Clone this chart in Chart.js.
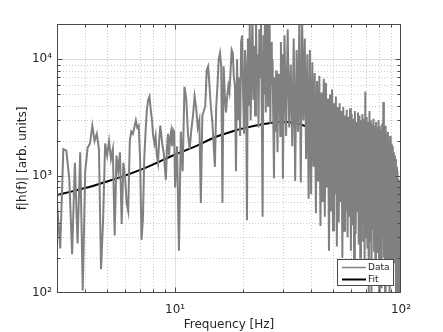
<!DOCTYPE html>
<html>
<head>
<meta charset="utf-8">
<script src="https://cdn.jsdelivr.net/npm/chart.js@4"></script>
<style>
html,body{margin:0;padding:0;background:#fff;}
canvas{display:block;}
</style>
</head>
<body>
<canvas id="c" width="443" height="332"></canvas>
<script>
// ---- Data ----
const freqA = [3.0,3.1,3.2,3.3,3.4,3.5,3.6,3.7,3.8,3.9,
  4.0,4.1,4.2,4.3,4.4,4.5,4.6,4.7,4.8,4.9,
  5.0,5.1,5.2,5.3,5.4,5.5,5.6,5.7,5.8,5.9,
  6.0,6.1,6.2,6.3,6.4,6.5,6.6,6.7,6.8,6.9,
  7.0,7.1,7.2,7.3,7.4,7.5,7.6,7.7,7.8,7.9,
  8.0,8.1,8.2,8.3,8.4,8.5,8.6,8.7,8.8,8.9,
  9.0,9.1,9.2,9.3,9.4,9.5,9.6,9.7,9.8,9.9,
  10.0];
const valsA = [600,240,1700,1650,950,215,1300,265,1600,105,
  1100,1750,1900,2700,2000,2300,1700,160,420,1900,
  1500,2000,1400,1700,310,1500,1100,1600,390,1300,
  1000,590,500,2000,2400,2300,2600,3000,2600,2700,
  1400,285,420,1400,2400,3700,4500,4800,3700,3000,
  2200,1900,2200,1500,1300,2000,2700,2200,1800,1600,
  1200,930,1700,2300,1500,2100,2400,1800,2500,2400,
  800];
const freqB = [10.2,10.4,10.6,10.8,11.0,11.2,11.4,11.6,11.8,12.0,
  12.2,12.4,12.6,12.8,13.0,13.2,13.4,13.6,13.8,14.0,
  14.2,14.4,14.6,14.8,15.0,15.2,15.4,15.6,15.8,16.0,
  16.2,16.4,16.6,16.8,17.0,17.2,17.4,17.6,17.8,18.0,
  18.2,18.4,18.6,18.8,19.0,19.2,19.4,19.6,19.8,20.0,
  20.2,20.4,20.6,20.8,21.0,21.2,21.4,21.6,21.8,22.0,
  22.2,22.4,22.6,22.8,23.0,23.2,23.4,23.6,23.8,24.0,
  24.2,24.4,24.6,24.8,25.0,25.2,25.4,25.6,25.8,26.0,
  26.2,26.4,26.6,26.8,27.0,27.2,27.4,27.6,27.8,28.0,
  28.2,28.4,28.6,28.8,29.0,29.2,29.4,29.6,29.8,30.0];
const valsB = [1800,230,2400,1100,5800,4600,2300,1700,2500,3300,
  4800,3800,2600,3000,590,3300,3600,4000,8100,8700,
  5900,3900,3000,1900,1200,3900,5900,10000,11300,8700,
  590,8700,4800,3500,4800,5900,5200,8000,12000,11300,
  7000,5900,1100,10000,3000,7000,2200,14000,16000,5000,
  2300,12000,8000,420,15000,4000,20000,3000,9000,24000,
  4500,13000,3300,25000,6000,11000,2600,18000,7000,22000,
  3200,450,16000,5000,26000,3500,12000,22000,4000,9000,
  24000,2800,14000,6000,10000,3000,960,7000,2400,8000,
  5000,1600,7500,3500,6000,2200,14000,4000,11000,950];
const freqC = [30.5,31.0,31.5,32.0,32.5,33.0,33.5,34.0,34.5,35.0,
  35.5,36.0,36.5,37.0,37.5,38.0,38.5,39.0,39.5,40.0,
  40.5,41.0,41.5,42.0,42.5,43.0,43.5,44.0,44.5,45.0,
  45.5,46.0,46.5,47.0,47.5,48.0,48.5,49.0,49.5,50.0,
  50.5,51.0,51.5,52.0,52.5,53.0,53.5,54.0,54.5,55.0,
  55.5,56.0,56.5,57.0,57.5,58.0,58.5,59.0,59.5,60.0,
  60.5,61.0,61.5,62.0,62.5,63.0,63.5,64.0,64.5,65.0,
  65.5,66.0,66.5,67.0,67.5,68.0,68.5,69.0,69.5,70.0,
  70.5,71.0,71.5,72.0,72.5,73.0,73.5,74.0,74.5,75.0,
  75.5,76.0,76.5,77.0,77.5,78.0,78.5,79.0,79.5,80.0,
  80.5,81.0,81.5,82.0,82.5,83.0,83.5,84.0,84.5,85.0,
  85.5,86.0,86.5,87.0,87.5,88.0,88.5,89.0,89.5,90.0,
  90.5,91.0,91.5,92.0,92.5,93.0,93.5,94.0,94.5,95.0,
  95.5,96.0,96.5,97.0,97.5,98.0,98.5,99.0,99.5,100.0];
const valsC = [16000,2200,18000,2600,9000,1800,15000,910,12000,2400,
  24000,880,22000,3000,15000,1400,11000,640,12000,700,
  9400,1200,7600,480,6500,900,7200,375,5200,600,
  6800,450,6300,800,4600,230,5000,500,5500,345,
  4200,700,4800,250,3900,400,4200,600,3600,200,
  3900,340,3300,500,3700,300,3200,450,3800,230,
  3400,380,3100,190,3600,320,2900,500,3500,260,
  3300,200,3000,400,3400,280,3100,190,5300,300,
  3200,240,2900,100,3600,280,3000,100,2800,350,
  3100,230,2700,150,2900,300,2600,220,3000,100,
  2700,260,2500,110,2800,300,4300,200,2500,100,
  2700,280,2300,150,2400,230,2000,100,2200,260,
  1900,120,1800,250,1600,180,1500,220,1400,100,
  1200,250,1100,100,950,260,900,100,850,300];
const fitFreq = [3,3.5,4,5,6,7,8,10,12,15,18,20,25,30,35,40,45,50,55,60,65,70,75,80,85,90,95,100];
const fitVals = [690,740,790,900,1010,1130,1260,1530,1760,2150,2420,2560,2800,2920,2800,2560,2300,2050,1780,1530,1290,1080,900,740,600,480,370,280];

const xMajorTicks = [10, 100];
const xMinorTicks = [3,4,5,6,7,8,9,20,30,40,50,60,70,80,90];
const yMajorTicks = [100, 1000, 10000];
const yMinorTicks = [200,300,400,500,600,700,800,900,2000,3000,4000,5000,6000,7000,8000,9000];
const seriesNames = ['Data', 'Fit'];
const xTitle = 'Frequency [Hz]';
const yTitle = 'f|h(f)| [arb. units]';

// ---- helpers ----
const SUP = {'0':'\u2070','1':'\u00B9','2':'\u00B2','3':'\u00B3','4':'\u2074','5':'\u2075','6':'\u2076','7':'\u2077','8':'\u2078','9':'\u2079','-':'\u207B'};
function powLabel(v){
  const e = Math.round(Math.log10(v));
  return '10' + String(e).split('').map(c => SUP[c]).join('');
}
const dataFreq = freqA.concat(freqB, freqC);
const dataVals = valsA.concat(valsB, valsC);
const dataPts = dataFreq.map((f, i) => ({x: f, y: dataVals[i]}));
const fitPts = fitFreq.map((f, i) => ({x: f, y: fitVals[i]}));

const TEXT = '#262626';
Chart.defaults.font.family = 'DejaVu Sans';
Chart.defaults.color = TEXT;

const frame = {
  id: 'frame',
  beforeDatasetsDraw(chart) {
    const {ctx, chartArea: a, scales: {x, y}} = chart;
    ctx.save();
    ctx.beginPath(); ctx.rect(a.left, a.top, a.right - a.left, a.bottom - a.top); ctx.clip();
    ctx.lineWidth = 1;
    ctx.strokeStyle = 'rgba(0,0,0,0.2)';
    ctx.setLineDash([1, 2]);
    ctx.beginPath();
    xMinorTicks.forEach(v => { const p = Math.round(x.getPixelForValue(v)) + 0.5; ctx.moveTo(p, a.top); ctx.lineTo(p, a.bottom); });
    yMinorTicks.forEach(v => { const p = Math.round(y.getPixelForValue(v)) + 0.5; ctx.moveTo(a.left, p); ctx.lineTo(a.right, p); });
    ctx.stroke();
    ctx.setLineDash([]);
    ctx.strokeStyle = 'rgba(0,0,0,0.12)';
    ctx.beginPath();
    xMajorTicks.forEach(v => { const p = Math.round(x.getPixelForValue(v)) + 0.5; ctx.moveTo(p, a.top); ctx.lineTo(p, a.bottom); });
    yMajorTicks.forEach(v => { const p = Math.round(y.getPixelForValue(v)) + 0.5; ctx.moveTo(a.left, p); ctx.lineTo(a.right, p); });
    ctx.stroke();
    ctx.restore();
  },
  afterDatasetsDraw(chart) {
    const {ctx, chartArea: a, scales: {x, y}} = chart;
    ctx.save();
    ctx.strokeStyle = '#4a4a4a';
    ctx.lineWidth = 1;
    ctx.beginPath();
    const L = a.left + 0.5, R = a.right - 0.5, T = a.top + 0.5, B = a.bottom - 0.5;
    const tick = (vals, len) => {
      vals.forEach(v => {
        const px = Math.round(x.getPixelForValue(v)) + 0.5;
        if (px > a.left + 1 && px < a.right - 1) {
          ctx.moveTo(px, B); ctx.lineTo(px, B - len);
          ctx.moveTo(px, T); ctx.lineTo(px, T + len);
        }
      });
    };
    const ytick = (vals, len) => {
      vals.forEach(v => {
        const py = Math.round(y.getPixelForValue(v)) + 0.5;
        if (py > a.top + 1 && py < a.bottom - 1) {
          ctx.moveTo(L, py); ctx.lineTo(L + len, py);
          ctx.moveTo(R, py); ctx.lineTo(R - len, py);
        }
      });
    };
    tick(xMajorTicks, 5); tick(xMinorTicks, 3);
    ytick(yMajorTicks, 5); ytick(yMinorTicks, 3);
    ctx.stroke();
    ctx.strokeRect(L, T, R - L, B - T);

    // legend box (inside, bottom-right)
    const bx = 337.5, by = 259.5, bw = 56, bh = 26;
    ctx.fillStyle = '#fff';
    ctx.fillRect(bx, by, bw, bh);
    ctx.strokeStyle = '#4a4a4a';
    ctx.strokeRect(bx, by, bw, bh);
    const cols = [chart.data.datasets[0].borderColor, chart.data.datasets[1].borderColor];
    const widths = [1.5, 2];
    const rows = [267.5, 279.5];
    ctx.font = '9px "DejaVu Sans"';
    ctx.textBaseline = 'middle';
    ctx.textAlign = 'left';
    for (let i = 0; i < 2; i++) {
      ctx.strokeStyle = cols[i];
      ctx.lineWidth = widths[i];
      ctx.beginPath(); ctx.moveTo(342, rows[i]); ctx.lineTo(366, rows[i]); ctx.stroke();
      ctx.fillStyle = TEXT;
      ctx.fillText(seriesNames[i], 368, rows[i]);
    }
    ctx.restore();
  }
};

new Chart(document.getElementById('c'), {
  type: 'line',
  data: {
    datasets: [
      {label: seriesNames[0], data: dataPts, borderColor: 'rgb(128,128,128)', borderWidth: 2,
       pointRadius: 0, tension: 0, fill: false},
      {label: seriesNames[1], data: fitPts, borderColor: '#000000', borderWidth: 2,
       pointRadius: 0, cubicInterpolationMode: 'monotone', fill: false}
    ]
  },
  options: {
    responsive: false,
    animation: false,
    devicePixelRatio: 1,
    parsing: false,
    layout: {padding: {left: 0, right: 42, top: 24, bottom: 0}},
    plugins: {legend: {display: false}, tooltip: {enabled: false}},
    scales: {
      x: {
        type: 'logarithmic', min: 3, max: 100,
        grid: {display: false, drawTicks: false},
        border: {display: false},
        afterBuildTicks: s => { s.ticks = xMajorTicks.map(v => ({value: v})); },
        afterFit: s => { s.height = 39; },
        ticks: {autoSkip: false, maxRotation: 0, padding: 10, font: {size: 12}, color: TEXT,
                callback: v => powLabel(v)},
        title: {display: true, text: xTitle, font: {size: 12}, color: TEXT, padding: {top: 0, bottom: 0}}
      },
      y: {
        type: 'logarithmic', min: 100, max: 20000,
        grid: {display: false, drawTicks: false},
        border: {display: false},
        afterBuildTicks: s => { s.ticks = yMajorTicks.map(v => ({value: v})); },
        afterFit: s => { s.width = 57; },
        ticks: {autoSkip: false, padding: 5, font: {size: 12}, color: TEXT,
                callback: v => powLabel(v)},
        title: {display: true, text: yTitle, font: {size: 12}, color: TEXT, padding: {top: 16, bottom: 0}}
      }
    }
  },
  plugins: [frame]
});
</script>
</body>
</html>
